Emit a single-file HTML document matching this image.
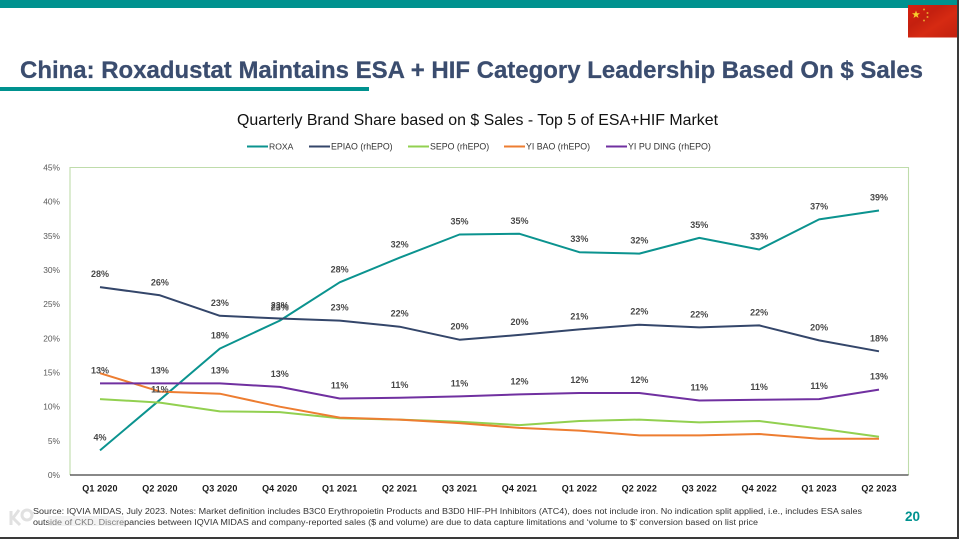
<!DOCTYPE html>
<html lang="en">
<head>
<meta charset="utf-8">
<title>China: Roxadustat Maintains ESA + HIF Category Leadership Based On $ Sales</title>
<style>
html,body{margin:0;padding:0;background:#fff;}
body{width:959px;height:539px;overflow:hidden;position:relative;}
svg{display:block;font-family:"Liberation Sans",sans-serif;}
</style>
</head>
<body>
<svg id="slide" width="959" height="539" viewBox="0 0 959 539" xmlns="http://www.w3.org/2000/svg">
  <defs>
    <linearGradient id="flagShade" x1="0" y1="0" x2="1" y2="1">
      <stop offset="0" stop-color="#d8200f"/>
      <stop offset="0.35" stop-color="#c4200f"/>
      <stop offset="0.6" stop-color="#d62a12"/>
      <stop offset="1" stop-color="#c2210f"/>
    </linearGradient>
  </defs>
  <rect x="0" y="0" width="959" height="539" fill="#ffffff"/>
  <rect x="0" y="0" width="959" height="8" fill="#00928f"/>
  <g>
    <rect x="908" y="5" width="49" height="32.5" fill="url(#flagShade)"/>
    <polygon points="916,10.5 917,13.3 920,13.3 917.6,15.1 918.5,18 916,16.3 913.5,18 914.4,15.1 912,13.3 915,13.3" fill="#f7d02c"/>
    <circle cx="924" cy="9.5" r="1" fill="#e8a02c"/>
    <circle cx="927.5" cy="13" r="1" fill="#e8a02c"/>
    <circle cx="927.5" cy="17" r="1" fill="#e8a02c"/>
    <circle cx="924" cy="20.5" r="1" fill="#e8a02c"/>
  </g>
  <text x="20" y="78" font-size="24" font-weight="700" fill="#3b4d6f" stroke="#3b4d6f" stroke-width="0.25" textLength="903" lengthAdjust="spacingAndGlyphs">China: Roxadustat Maintains ESA + HIF Category Leadership Based On $ Sales</text>
  <rect x="0" y="87" width="369" height="4" fill="#00928f"/>
  <text x="237" y="125" font-size="16" fill="#111111" textLength="481" lengthAdjust="spacingAndGlyphs">Quarterly Brand Share based on $ Sales - Top 5 of ESA+HIF Market</text>
  <g id="legend"></g>
  <g id="frame"></g>
  <g id="yaxis"></g>
  <g id="xaxis"></g>
  <g id="lines"></g>
  <g id="labels"></g>
  <g>
    <text x="33" y="514" font-size="8.6" fill="#333333" textLength="829" lengthAdjust="spacingAndGlyphs">Source: IQVIA MIDAS, July 2023. Notes: Market definition includes B3C0 Erythropoietin Products and B3D0 HIF-PH Inhibitors (ATC4), does not include iron. No indication split applied, i.e., includes ESA sales</text>
    <text x="33" y="525" font-size="8.6" fill="#333333" textLength="725" lengthAdjust="spacingAndGlyphs">outside of CKD. Discrepancies between IQVIA MIDAS and company-reported sales ($ and volume) are due to data capture limitations and ‘volume to $’ conversion based on list price</text>
  </g>
  <g opacity="0.75">
    <path d="M11 511v14M19 510l-6 8 7 7" fill="none" stroke="#d8d8d8" stroke-width="3"/>
    <circle cx="27" cy="515" r="5" fill="none" stroke="#d8d8d8" stroke-width="3"/>
    <rect x="48" y="516" width="76" height="10" fill="#e2e2e2" opacity="0.55"/>
  </g>
  <text x="905" y="521" font-size="13.5" font-weight="700" fill="#00928f">20</text>
  <rect x="957" y="0" width="2" height="539" fill="#3a3a3a"/>
  <rect x="0" y="537" width="959" height="2" fill="#3a3a3a"/>
</svg>
<script>
const categories = ["Q1 2020","Q2 2020","Q3 2020","Q4 2020","Q1 2021","Q2 2021","Q3 2021","Q4 2021","Q1 2022","Q2 2022","Q3 2022","Q4 2022","Q1 2023","Q2 2023"];
const yTicks = [0,5,10,15,20,25,30,35,40,45];
const seriesNames = ["ROXA","EPIAO (rhEPO)","SEPO (rhEPO)","YI BAO (rhEPO)","YI PU DING (rhEPO)"];
const roxa = [3.6,11.0,18.5,22.6,28.2,31.8,35.2,35.3,32.6,32.4,34.7,33.0,37.4,38.7];
const epiao = [27.5,26.3,23.3,22.9,22.6,21.7,19.8,20.5,21.3,22.0,21.6,21.9,19.7,18.1];
const sepo = [11.1,10.6,9.3,9.2,8.3,8.1,7.8,7.3,7.9,8.1,7.7,7.9,6.8,5.6];
const yiBao = [14.9,12.2,11.9,10.0,8.4,8.1,7.6,6.9,6.5,5.8,5.8,6.0,5.3,5.3];
const yiPuDing = [13.4,13.4,13.4,12.9,11.2,11.3,11.5,11.8,12.0,12.0,10.9,11.0,11.1,12.5];
const roxaLabels = ["4%",null,"18%","23%","28%","32%","35%","35%","33%","32%","35%","33%","37%","39%"];
const epiaoLabels = ["28%","26%","23%","23%","23%","22%","20%","20%","21%","22%","22%","22%","20%","18%"];
const sepoLabels = [null,"11%",null,null,null,null,null,null,null,null,null,null,null,null];
const yiPuDingLabels = ["13%","13%","13%","13%","11%","11%","11%","12%","12%","12%","11%","11%","11%","13%"];
const seriesValues = [roxa, epiao, sepo, yiBao, yiPuDing];
const seriesLabels = [roxaLabels, epiaoLabels, sepoLabels, null, yiPuDingLabels];
const seriesColors = ["#0b938f","#34466a","#92d050","#ed7d31","#7030a0"];

const NS = "http://www.w3.org/2000/svg";
const plot = {left:70, right:909, top:167.5, bottom:475, max:45};
function xScale(i){ return plot.left + (i + 0.5) * (plot.right - plot.left) / categories.length; }
function yScale(v){ return plot.bottom - v / plot.max * (plot.bottom - plot.top); }
function make(tag, attrs, parent, text){
  const el = document.createElementNS(NS, tag);
  for (const k in attrs) el.setAttribute(k, attrs[k]);
  if (text !== undefined) el.textContent = text;
  parent.appendChild(el);
  return el;
}
function slug(s){ return s.toLowerCase().replace(/[^a-z0-9]+/g, "-").replace(/-$/, ""); }

const frame = document.getElementById("frame");
const framePath = make("path", {d:`M${plot.left} ${plot.bottom}V${plot.top}H${plot.right-0.5}V${plot.bottom}`, fill:"none", stroke:"#bfdcab", "stroke-width":1.1}, frame);


const baseline = make("line", {x1:plot.left, x2:plot.right-0.5, y1:plot.bottom, y2:plot.bottom, stroke:"#111111", "stroke-width":1.1}, frame);



const yaxis = document.getElementById("yaxis");
yTicks.forEach(t => {
  const el = make("text", {x:60, y:yScale(t)+3, "text-anchor":"end", "font-size":8.4, fill:"#595959"}, yaxis, t + "%");
  
  
});

const xaxis = document.getElementById("xaxis");
categories.forEach((c, i) => {
  const el = make("text", {x:xScale(i), y:491.5, "text-anchor":"middle", "font-size":9, "font-weight":700, "letter-spacing":0.12, fill:"#1a1a1a"}, xaxis, c);
  
  
});

const lines = document.getElementById("lines");
seriesValues.forEach((vals, s) => {
  const pts = vals.map((v, i) => xScale(i).toFixed(1) + "," + yScale(v).toFixed(1)).join(" ");
  const el = make("polyline", {points:pts, fill:"none", stroke:seriesColors[s], "stroke-width":2, "stroke-linejoin":"round"}, lines);
  
  el.setAttribute('data-series', slug(seriesNames[s]));
  
});

const labels = document.getElementById("labels");
seriesLabels.forEach((arr, s) => {
  if (!arr) return;
  arr.forEach((txt, i) => {
    if (!txt) return;
    const el = make("text", {x:xScale(i), y:yScale(seriesValues[s][i]) - 10, "text-anchor":"middle", "font-size":9, "font-weight":700, fill:"#484848"}, labels, txt);
    
    
  });
});

const legend = document.getElementById("legend");
const legendKeyStarts = [247,309,408,504,606];
const legendFontSizes = [8.6,8.8,8.8,8.8,8.9];
seriesNames.forEach((n, s) => {
  const key = make("line", {x1:legendKeyStarts[s], x2:legendKeyStarts[s]+21, y1:146.5, y2:146.5, stroke:seriesColors[s], "stroke-width":2}, legend);
  
  
  const t = make("text", {x:legendKeyStarts[s]+22, y:149.5, "font-size":legendFontSizes[s], fill:"#333333"}, legend, n);
  
  
});
</script>
</body>
</html>
